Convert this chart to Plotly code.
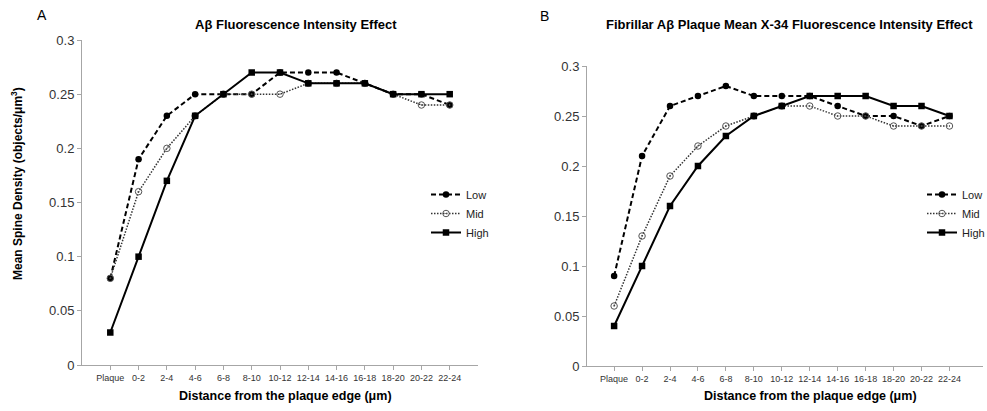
import plotly.graph_objects as go

categories = ["Plaque", "0-2", "2-4", "4-6", "6-8", "8-10", "10-12", "12-14",
              "14-16", "16-18", "18-20", "20-22", "22-24"]

a_low = [0.08, 0.19, 0.23, 0.25, 0.25, 0.25, 0.27, 0.27, 0.27, 0.26, 0.25, 0.25, 0.24]
a_mid = [0.08, 0.16, 0.20, 0.23, 0.25, 0.25, 0.25, 0.26, 0.26, 0.26, 0.25, 0.24, 0.24]
a_high = [0.03, 0.10, 0.17, 0.23, 0.25, 0.27, 0.27, 0.26, 0.26, 0.26, 0.25, 0.25, 0.25]

b_low = [0.09, 0.21, 0.26, 0.27, 0.28, 0.27, 0.27, 0.27, 0.26, 0.25, 0.25, 0.24, 0.25]
b_mid = [0.06, 0.13, 0.19, 0.22, 0.24, 0.25, 0.26, 0.26, 0.25, 0.25, 0.24, 0.24, 0.24]
b_high = [0.04, 0.10, 0.16, 0.20, 0.23, 0.25, 0.26, 0.27, 0.27, 0.27, 0.26, 0.26, 0.25]

y_ticks = [0, 0.05, 0.1, 0.15, 0.2, 0.25, 0.3]
y_ticktext = ["0", "0.05", "0.1", "0.15", "0.2", "0.25", "0.3"]

series_names = ["Low", "Mid", "High"]

W, H = 987, 411
FONT = "Liberation Sans, Arial, sans-serif"

def px_x(p):
    return p / W

def px_y(p):
    return 1 - p / H

styles = {
    "Low": dict(line=dict(color="black", width=2, dash="5px,3px"),
                marker=dict(symbol="circle", size=6.5, color="black")),
    "Mid": dict(line=dict(color="#333333", width=1.5, dash="1.5px,1.5px"),
                marker=dict(symbol="circle-open-dot", size=6.5, color="#555555",
                            line=dict(width=1, color="#555555"))),
    "High": dict(line=dict(color="black", width=2, dash="solid"),
                 marker=dict(symbol="square", size=6.5, color="black")),
}

idx = list(range(len(categories)))

fig = go.Figure()
for panel, data, xa, ya, leg in [
    ("A", [a_low, a_mid, a_high], "x", "y", "legend"),
    ("B", [b_low, b_mid, b_high], "x2", "y2", "legend2"),
]:
    for name, vals in zip(series_names, data):
        fig.add_trace(go.Scatter(
            x=idx, y=vals, name=name, mode="lines+markers",
            xaxis=xa, yaxis=ya, legend=leg, **styles[name]))

axis_common = dict(
    showgrid=False, zeroline=False, showline=True, linecolor="#a6a6a6",
    linewidth=1, ticks="outside", tickcolor="#a6a6a6", ticklen=4,
    automargin=False,
)

xaxis_common = dict(
    axis_common, tickmode="array", tickvals=idx, ticktext=categories,
    tickfont=dict(family=FONT, size=9, color="#333333"),
)
yaxis_common = dict(
    axis_common, tickmode="array", tickvals=y_ticks, ticktext=y_ticktext,
    range=[0, 0.3], tickfont=dict(family=FONT, size=13, color="#333333"),
)

legend_common = dict(
    xanchor="right", yanchor="top", font=dict(family=FONT, size=11, color="#222222"),
    bgcolor="rgba(0,0,0,0)", itemwidth=30, tracegroupgap=0,
)

fig.update_layout(
    width=W, height=H,
    margin=dict(l=0, r=0, t=0, b=0, autoexpand=False),
    paper_bgcolor="white", plot_bgcolor="white",
    font=dict(family=FONT, color="black"),
    xaxis=dict(xaxis_common, domain=[px_x(82), px_x(478)], range=[-1, 13], anchor="y"),
    yaxis=dict(yaxis_common, domain=[px_y(365), px_y(40)], anchor="x"),
    xaxis2=dict(xaxis_common, domain=[px_x(587), px_x(983)], range=[-0.97, 13.2], anchor="y2"),
    yaxis2=dict(yaxis_common, domain=[px_y(366), px_y(66)], anchor="x2"),
    legend=dict(legend_common, x=px_x(494), y=px_y(180)),
    legend2=dict(legend_common, x=px_x(990), y=px_y(180)),
    showlegend=True,
)

ann = [
    dict(text="A", x=px_x(42), y=px_y(15), font=dict(size=14)),
    dict(text="B", x=px_x(544), y=px_y(16), font=dict(size=14)),
    dict(text="<b>Aβ Fluorescence Intensity Effect</b>", x=px_x(296), y=px_y(24), font=dict(size=13)),
    dict(text="<b>Fibrillar Aβ Plaque Mean X-34 Fluorescence Intensity Effect</b>", x=px_x(789), y=px_y(24), font=dict(size=13)),
    dict(text="<b>Distance from the plaque edge (μm)</b>", x=px_x(285), y=px_y(396), font=dict(size=12.5)),
    dict(text="<b>Distance from the plaque edge (μm)</b>", x=px_x(810), y=px_y(396), font=dict(size=12.5)),
    dict(text="<b>Mean Spine Density (objects/μm<sup>3</sup>)</b>", x=px_x(17), y=px_y(184), textangle=-90, font=dict(size=12)),
]
for a in ann:
    a.setdefault("xref", "paper")
    a.setdefault("yref", "paper")
    a["showarrow"] = False
    a["xanchor"] = "center"
    a["yanchor"] = "middle"
    a["font"] = dict(a["font"], family=FONT, color="black")
    fig.add_annotation(**a)

fig.write_html("out.html", config={"displayModeBar": False},
               post_script="document.body.style.margin='0';document.body.style.overflow='hidden';")
